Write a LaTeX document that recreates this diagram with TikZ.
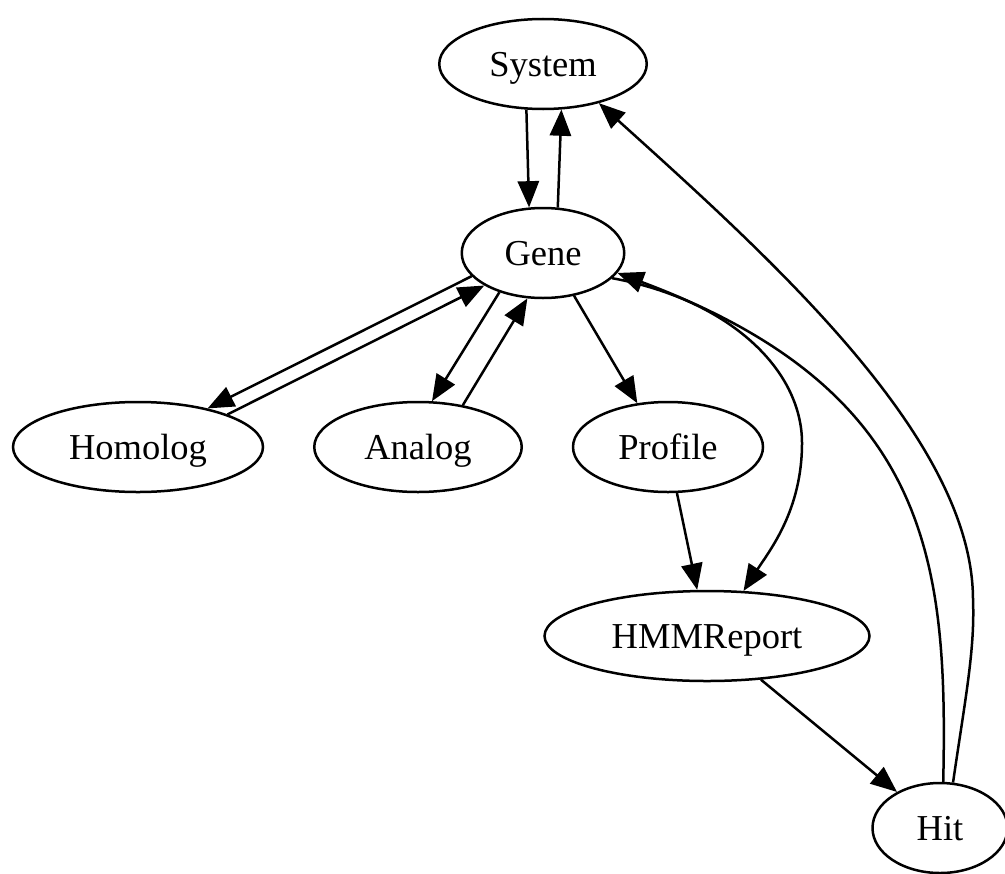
\documentclass[tikz,border=0pt]{standalone}
\usepackage{fontspec}
\setmainfont{Liberation Serif}
\usetikzlibrary{arrows.meta,shapes.geometric}
\begin{document}
\begin{tikzpicture}[x=.4pt, y=-.4pt, line width=1pt, >={Triangle[length=10.5pt,width=8.5pt]},
  cls/.style={ellipse, draw, inner sep=0pt, minimum height=36pt, font=\fontsize{14.6}{17}\selectfont, text height=9.6pt, text depth=0pt}]
\useasboundingbox (0,0) rectangle (1005,873);
\node[cls, minimum width=83pt] (System) at (543,64) {System};
\node[cls, minimum width=65pt] (Gene) at (543,253) {Gene};
\node[cls, minimum width=100pt] (Homolog) at (138,447) {Homolog};
\node[cls, minimum width=83pt] (Analog) at (418,447) {Analog};
\node[cls, minimum width=76pt] (Profile) at (668,447) {Profile};
\node[cls, minimum width=130pt] (HMMReport) at (707,636) {HMMReport};
\node[cls, minimum width=54pt] (Hit) at (940,828) {Hit};

\draw[->] (System.-110) -- (Gene.107);
\draw[->] (Gene.72) -- (System.-68);
\draw[->] (Gene.198) -- (Homolog.29);
\draw[->] (Homolog.20) -- (Gene.209);
\draw[->] (Gene.222) -- (Analog.73);
\draw[->] (Analog.43) -- (Gene.251);
\draw[->] (Gene.-54) -- (Profile.125);
\draw[->] (Profile.-79) -- (HMMReport.102);
\draw[->] (Gene.-20) .. controls (730,300) and (802,370) .. (802,443)
  .. controls (802,510) and (770,550) .. (HMMReport.51);
\draw[->] (HMMReport.-39) -- (Hit.140);
\draw[->] (Hit.86) .. controls (948,560) and (930,390) .. (Gene.-15);
\draw[->] (Hit.74) .. controls (965,700) and (975,650) .. (973,600)
  .. controls (973,440) and (775,262) .. (System.-35);
\end{tikzpicture}
\end{document}
